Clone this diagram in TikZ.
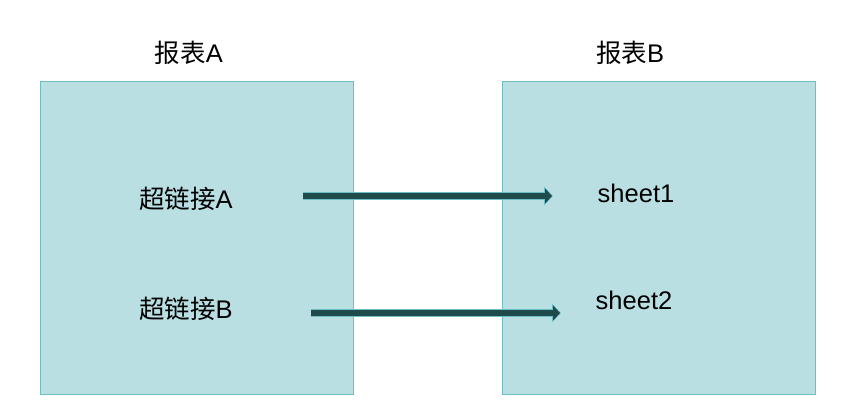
\documentclass[tikz,border=0pt]{standalone}
\usepackage{fontspec}
\setmainfont{Liberation Sans}
\newfontfamily\cjk{Noto Sans CJK SC}
\usetikzlibrary{arrows.meta}
\definecolor{boxfill}{HTML}{B9DFE3}
\definecolor{boxline}{HTML}{6DBEC5}
\definecolor{arrowdark}{HTML}{1F4B4D}

\tikzset{
  sheetbox/.style={draw=boxline,fill=boxfill,line width=0.8pt,minimum width=313pt,minimum height=313pt,inner sep=0pt},
  lbl/.style={inner sep=0pt,font=\fontsize{25.5}{28}\selectfont},
  linkout/.style={line width=8.5pt,draw=boxline,-{Triangle[length=9pt,width=18pt]}},
  linkin/.style={line width=6pt,draw=arrowdark,-{Triangle[length=7pt,width=15pt]}}
}

\begin{document}
\begin{tikzpicture}[x=1pt,y=-1pt]
\useasboundingbox (0,0) rectangle (851,414);
\node[sheetbox] (repA) at (196.5,237.5) {};
\node[sheetbox] (repB) at (658.5,237.5) {};
\node[lbl] (titleA) at (189,53) {{\cjk 报表}A};
\node[lbl] (titleB) at (630,53) {{\cjk 报表}B};
\node[lbl] (linkA) at (186,199) {{\cjk 超链接}A};
\node[lbl] (linkB) at (186,309) {{\cjk 超链接}B};
\node[lbl] (sheetA) at (636,193) {sheet1};
\node[lbl] (sheetB) at (634,300) {sheet2};
% arrow end points
\coordinate (a1) at (303,196);
\coordinate (b1) at (553,196);
\coordinate (a2) at (311,313);
\coordinate (b2) at (561,313);
\draw[linkout] (a1) -- (b1);
\draw[linkin,shorten >=1pt] (a1) -- (b1);
\draw[linkout] (a2) -- (b2);
\draw[linkin,shorten >=1pt] (a2) -- (b2);
\end{tikzpicture}
\end{document}
